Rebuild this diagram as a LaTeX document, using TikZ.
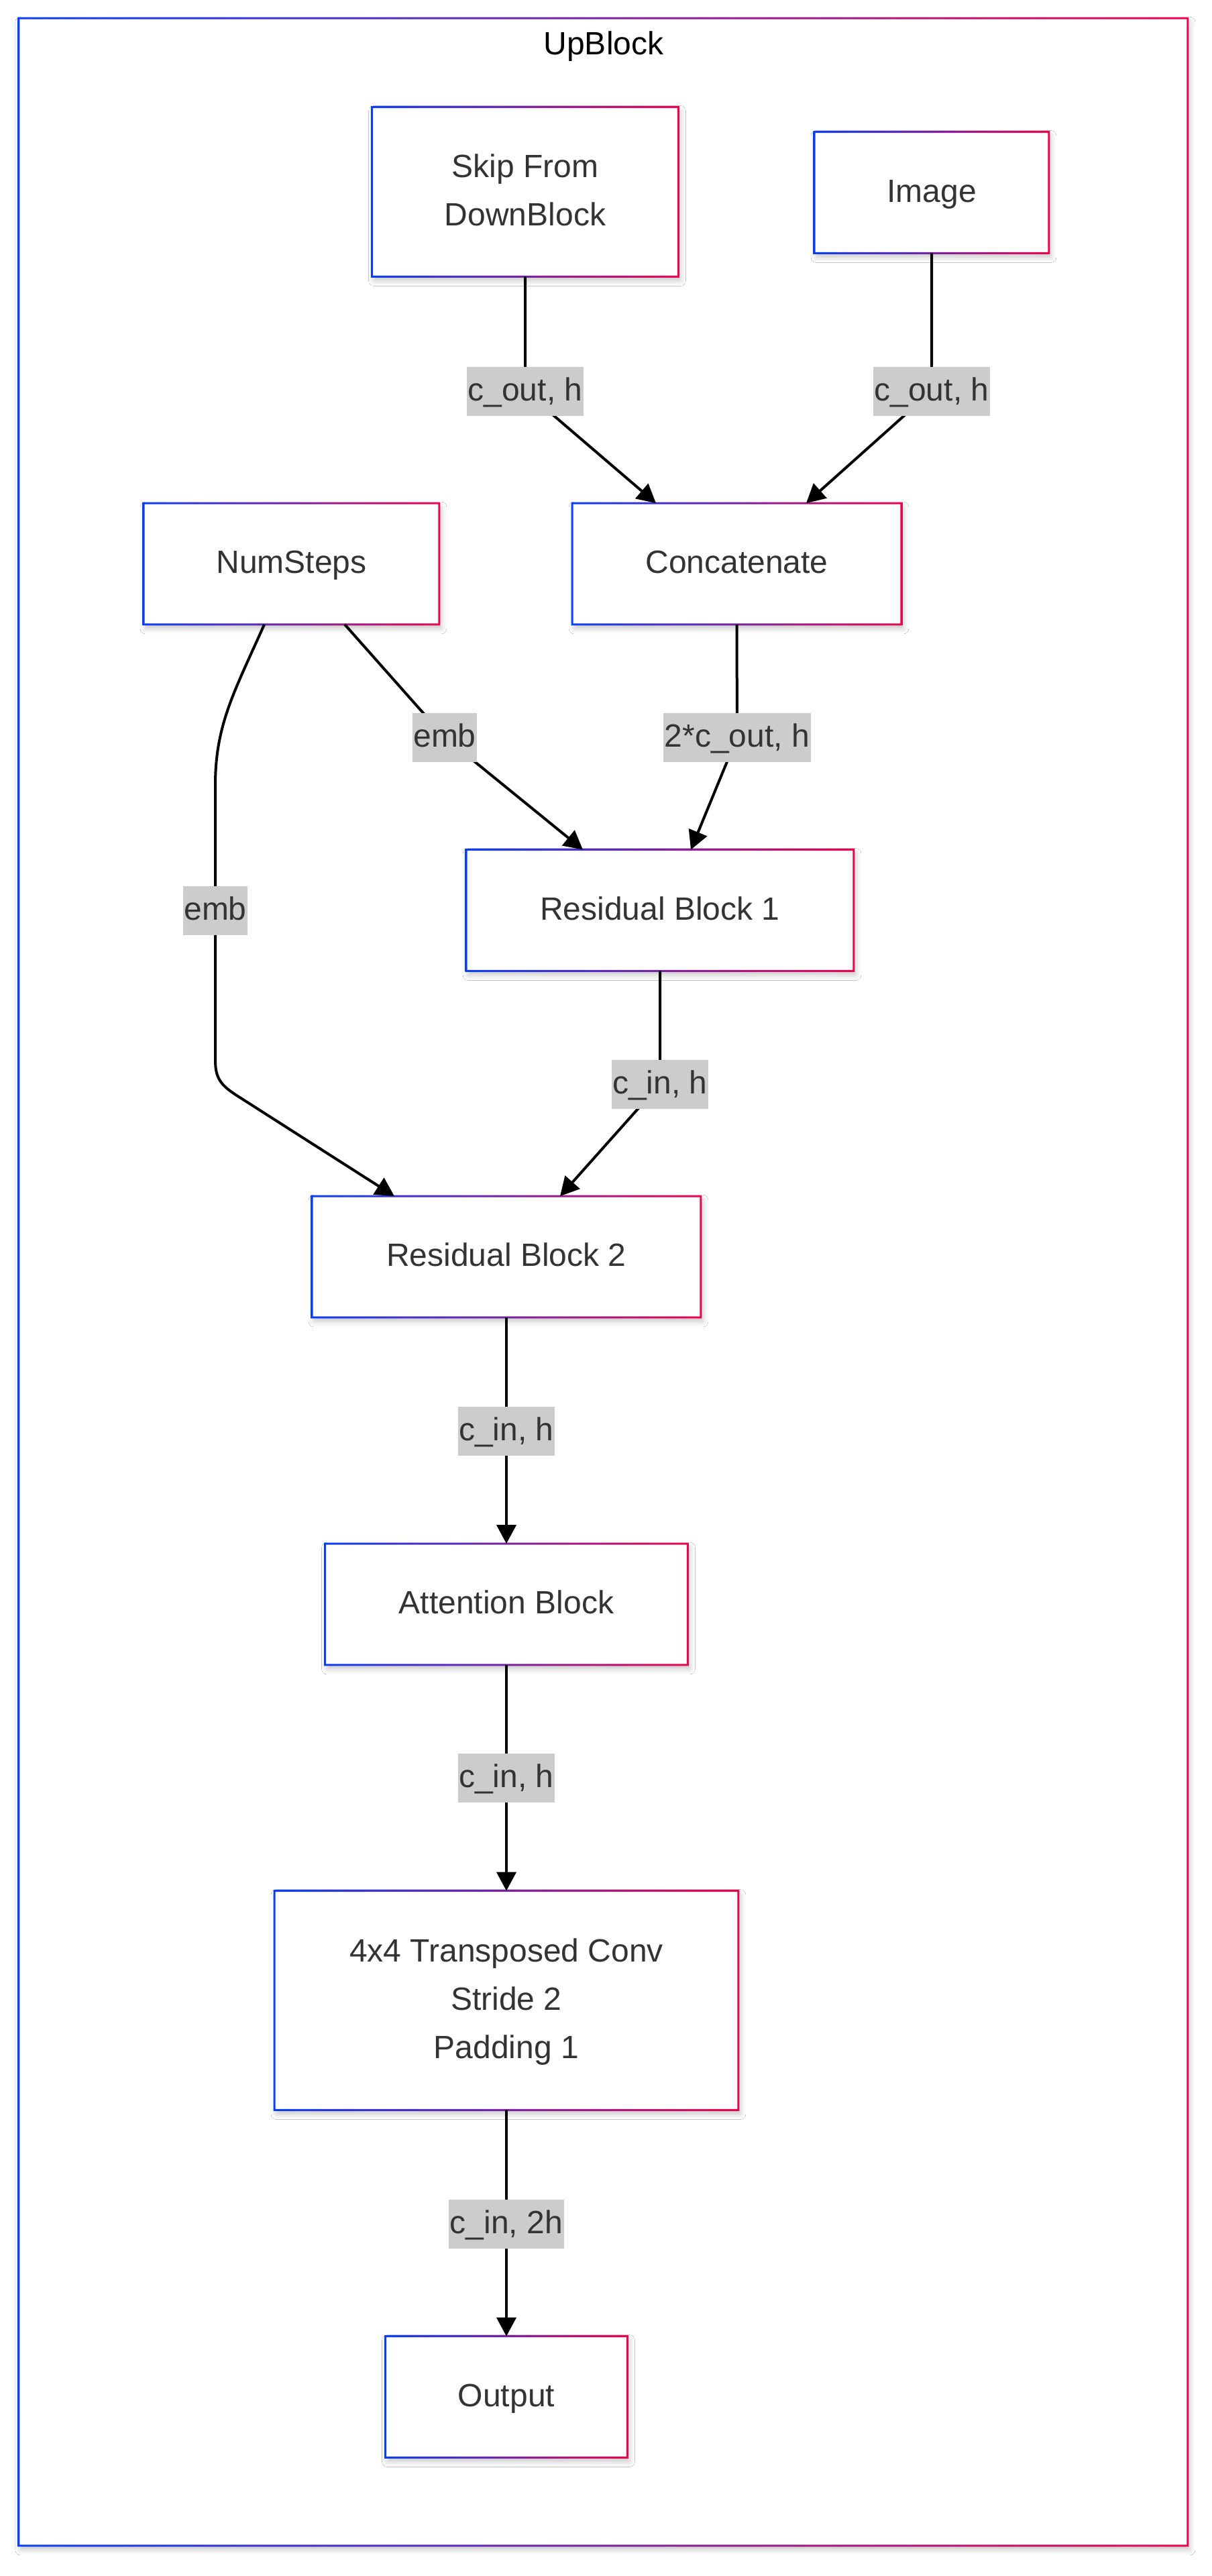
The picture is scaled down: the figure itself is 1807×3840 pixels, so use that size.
\documentclass[tikz,border=0pt]{standalone}
\usepackage{fontspec}
\setmainfont{Liberation Sans}
\usetikzlibrary{arrows.meta,shadows.blur,backgrounds,calc}
\definecolor{cblue}{HTML}{0A3FF5}
\definecolor{cred}{HTML}{EB0550}
\definecolor{ctext}{HTML}{333333}
\definecolor{clab}{HTML}{CCCCCC}
\newcommand\nf{\fontsize{24}{36}\selectfont}
\newcommand\gradframe[1]{%
  \path[fill=white, blur shadow={shadow xshift=1.5pt,shadow yshift=-3pt,shadow blur radius=4pt,shadow opacity=22}]
    (#1.south west) rectangle (#1.north east);
  \shade[left color=cblue,right color=cred,even odd rule]
    ($(#1.south west)+(-0.75pt,-0.75pt)$) rectangle ($(#1.north east)+(0.75pt,0.75pt)$)
    ($(#1.south west)+(0.75pt,0.75pt)$) rectangle ($(#1.north east)+(-0.75pt,-0.75pt)$);
}
\begin{document}
\begin{tikzpicture}[x=0.5pt,y=-0.5pt,
  box/.style={inner sep=0pt, text=ctext, font=\nf, align=center},
  elabel/.style={fill=clab, inner xsep=0.8pt, inner ysep=0pt, minimum height=36.5pt, text=ctext, font=\nf},
  edge/.style={draw=black, line width=2pt, -{Triangle[length=14pt,width=14.5pt]}},
]
\useasboundingbox (0,0) rectangle (1807,3840);

% frame and title
\node[inner sep=0pt, minimum width=871.15pt, minimum height=1883.5pt] (frame) at (899.35,1911) {};
\node[anchor=base, font=\nf, text=black, inner sep=0pt] (title) at (900,81) {UpBlock};

% nodes
\node[box, minimum width=228pt, minimum height=126pt] (skip) at (783,286) {\strut Skip From\\\strut DownBlock};
\node[box, minimum width=174.5pt, minimum height=90pt] (image) at (1389,287) {\strut Image};
\node[box, minimum width=220pt, minimum height=90pt] (numsteps) at (434.5,840.5) {\strut NumSteps};
\node[box, minimum width=245pt, minimum height=90pt] (concat) at (1098.5,840.5) {\strut Concatenate};
\node[box, minimum width=288.5pt, minimum height=90pt] (rb1) at (984,1357) {\strut Residual Block 1};
\node[box, minimum width=289.5pt, minimum height=90pt] (rb2) at (755,1873.5) {\strut Residual Block 2};
\node[box, minimum width=270pt, minimum height=90pt] (att) at (755,2391.5) {\strut Attention Block};
\node[box, minimum width=345.5pt, minimum height=163pt] (trans) at (755,2982) {\strut 4x4 Transposed Conv\\\strut Stride 2\\\strut Padding 1};
\node[box, minimum width=180pt, minimum height=90pt] (out) at (755,3573) {\strut Output};

\begin{pgfonlayer}{background}
  \fill[white] (0,0) rectangle (1807,3840);
  \gradframe{frame}
  \gradframe{skip}
  \gradframe{image}
  \gradframe{numsteps}
  \gradframe{concat}
  \gradframe{rb1}
  \gradframe{rb2}
  \gradframe{att}
  \gradframe{trans}
  \gradframe{out}
\end{pgfonlayer}

% label positions
\coordinate (l1) at (783,583);
\coordinate (l2) at (1389,583);
\coordinate (l3) at (663,1099);
\coordinate (l4) at (1099,1099);
\coordinate (l5) at (321,1357);
\coordinate (l6) at (984,1616);
\coordinate (l7) at (755,2133);
\coordinate (l8) at (755,2650);
\coordinate (l9) at (755,3315);

% edges
\draw[edge] (skip.south) -- (l1) -- ([xshift=-60.25pt]concat.north);
\draw[edge] (image.south) -- (l2) -- ([xshift=51.75pt]concat.north);
\draw[edge] ([xshift=39.75pt]numsteps.south) -- (l3) -- ([xshift=-57.5pt]rb1.north);
\draw[edge] (concat.south) -- (l4) -- ([xshift=23pt]rb1.north);
\draw[edge] ([xshift=-20.25pt]numsteps.south) .. controls (350,1030) and (321,1080) .. (321,1170)
   -- (l5) -- (321,1580) .. controls (321,1606) and (328,1617) .. (353,1633)
   -- ([xshift=-83.5pt]rb2.north);
\draw[edge] (rb1.south) -- (l6) -- ([xshift=40pt]rb2.north);
\draw[edge] (rb2.south) -- (l7) -- (att.north);
\draw[edge] (att.south) -- (l8) -- (trans.north);
\draw[edge] (trans.south) -- (l9) -- (out.north);

% labels
\node[elabel] (e1) at (l1) {\strut c\_out, h};
\node[elabel] (e2) at (l2) {\strut c\_out, h};
\node[elabel] (e3) at (l3) {\strut emb};
\node[elabel] (e4) at (l4) {\strut 2*c\_out, h};
\node[elabel] (e5) at (l5) {\strut emb};
\node[elabel] (e6) at (l6) {\strut c\_in, h};
\node[elabel] (e7) at (l7) {\strut c\_in, h};
\node[elabel] (e8) at (l8) {\strut c\_in, h};
\node[elabel] (e9) at (l9) {\strut c\_in, 2h};
\end{tikzpicture}
\end{document}
